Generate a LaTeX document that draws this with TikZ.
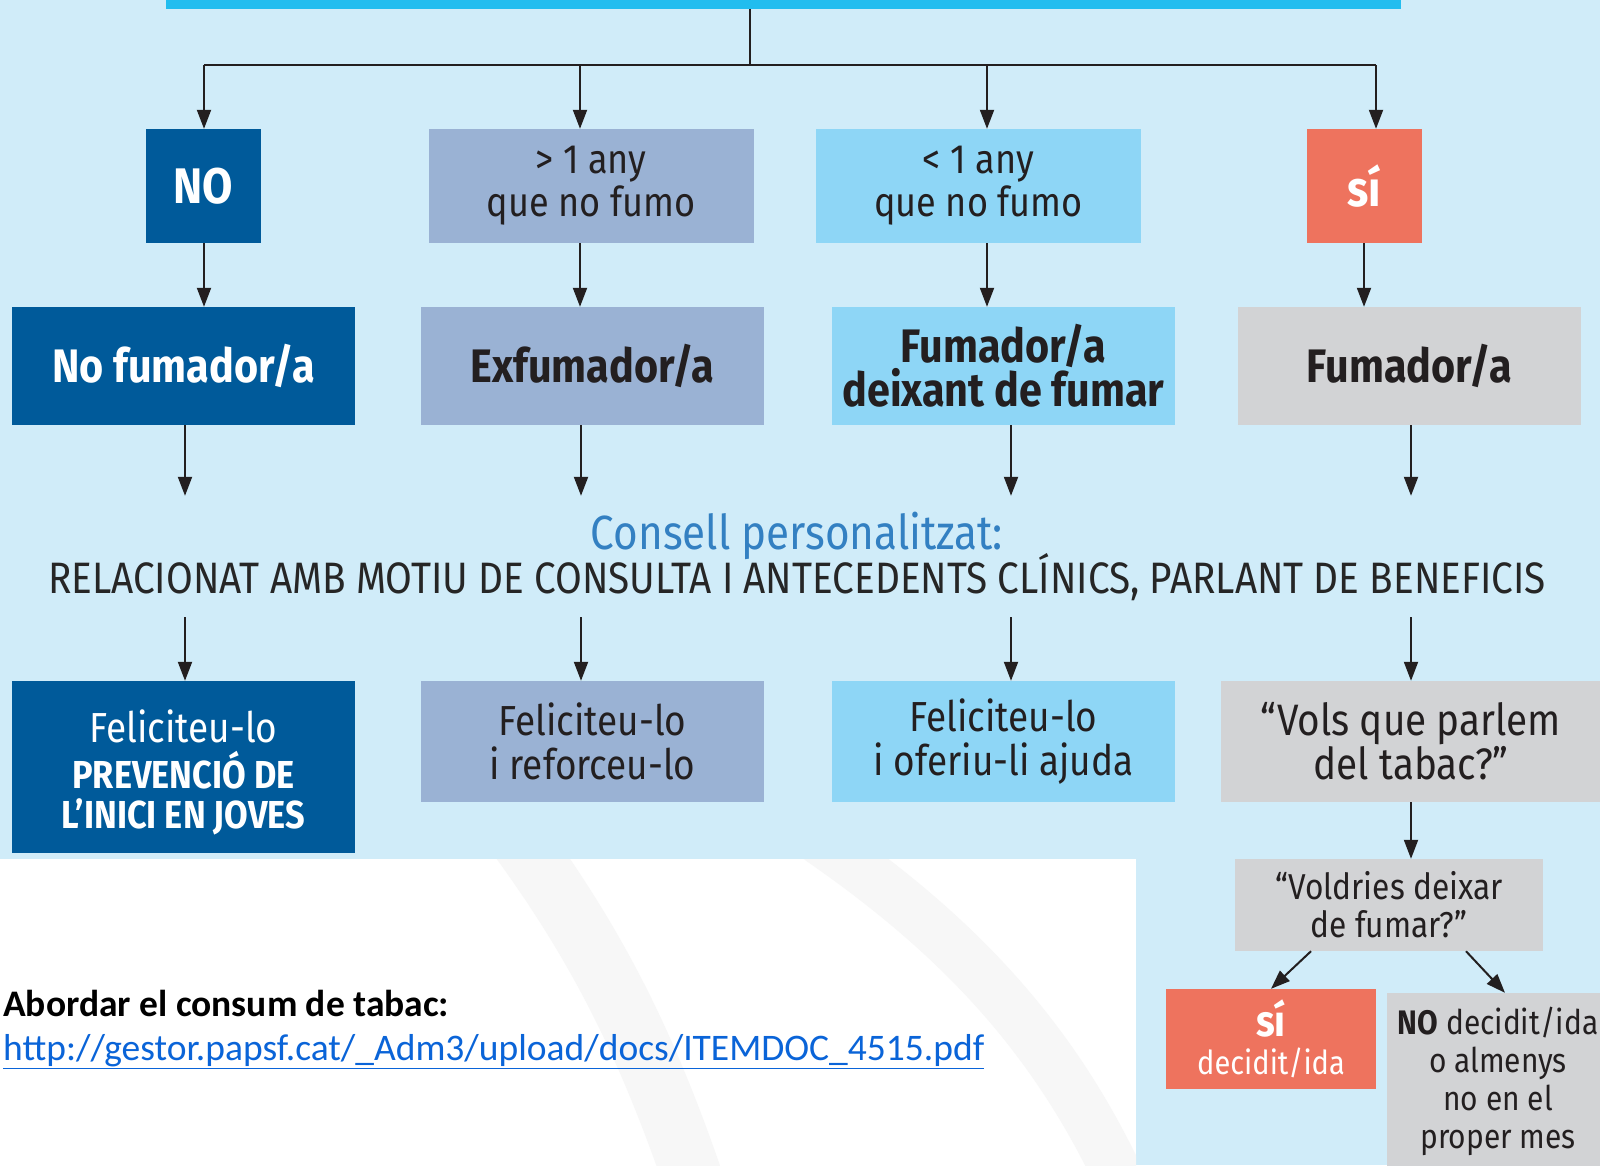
\documentclass[tikz,border=0pt]{standalone}
\usepackage{fontspec}
\setmainfont{Fira Sans}[FakeStretch=0.88]
\newfontfamily\calibri{Carlito}
\usetikzlibrary{arrows.meta,positioning}
\definecolor{skyback}{HTML}{D0ECF9}
\definecolor{barcyan}{HTML}{22BDEF}
\definecolor{darkblue}{HTML}{005A9A}
\definecolor{greyblue}{HTML}{9AB2D4}
\definecolor{lightcyan}{HTML}{8ED6F6}
\definecolor{salmon}{HTML}{EE735E}
\definecolor{lightgrey}{HTML}{D2D3D5}
\definecolor{inkdark}{HTML}{231F20}
\definecolor{consellblue}{HTML}{3380C2}
\definecolor{linkblue}{HTML}{0A64D8}

\begin{document}
\begin{tikzpicture}[x=1pt, y=-1pt,
    box/.style={rectangle, inner sep=0pt, align=center, text=inkdark},
    arr/.style={-{Triangle[length=19pt,width=14pt]}, line width=2pt, draw=inkdark},
    line/.style={line width=2pt, draw=inkdark}]

  % background
  \fill[skyback] (0,0) rectangle (1600,1165);
  \useasboundingbox (0,0) rectangle (1600,1165);
  \clip (0,0) rectangle (1600,1165);
  \fill[white] (0,859) rectangle (1136,1165);
  \begin{scope}
    \clip (0,859) rectangle (1136,1165);
    \draw[black!3, line width=60pt, line cap=round] (520,840) .. controls (600,950) and (650,1050) .. (700,1200);
    \draw[black!3, line width=50pt, line cap=round] (820,840) .. controls (950,930) and (1050,1030) .. (1120,1180);
  \end{scope}

  % top bar
  \node[box, fill=barcyan, minimum width=1235pt, minimum height=9pt] (bar) at (783.5,4.5) {};

  % first row
  \node[box, fill=darkblue, text=white, font=\bfseries\fontsize{50}{46}\selectfont, minimum width=115pt, minimum height=114pt] (no) at (203.5,186) {NO};
  \node[box, fill=greyblue, font=\fontsize{41}{43}\selectfont, minimum width=325pt, minimum height=114pt] (gt) at (591,186) {> 1 any\\que no fumo};
  \node[box, fill=lightcyan, font=\fontsize{41}{43}\selectfont, minimum width=325pt, minimum height=114pt] (lt) at (978.5,186) {< 1 any\\que no fumo};
  \node[box, fill=salmon, text=white, font=\bfseries\fontsize{50}{46}\selectfont, minimum width=115pt, minimum height=114pt] (si) at (1364,186) {sí};

  % second row
  \node[box, fill=darkblue, text=white, font=\bfseries\fontsize{47}{44}\selectfont, minimum width=343pt, minimum height=118pt] (nofum) at (183.5,366) {No fumador/a};
  \node[box, fill=greyblue, font=\bfseries\fontsize{47}{44}\selectfont, minimum width=343pt, minimum height=118pt] (exfum) at (592.5,366) {Exfumador/a};
  \node[box, fill=lightcyan, font=\bfseries\fontsize{47}{44}\selectfont, minimum width=343pt, minimum height=118pt] (deix) at (1003.5,366) {Fumador/a\\deixant de fumar};
  \node[box, fill=lightgrey, font=\bfseries\fontsize{47}{44}\selectfont, minimum width=343pt, minimum height=118pt] (fum) at (1409.5,366) {Fumador/a};

  % advice
  \node[box, text=black!85, font=\fontsize{44}{47}\selectfont, minimum height=121pt] (advice) at (797,556.5)
    {{\color{consellblue}\fontsize{48}{47}\selectfont Consell personalitzat:}\\[-8pt]RELACIONAT AMB MOTIU DE CONSULTA I ANTECEDENTS CLÍNICS, PARLANT DE BENEFICIS};

  % third row
  \node[box, fill=darkblue, text=white, font=\fontsize{42}{46}\selectfont, minimum width=343pt, minimum height=172pt] (fel1) at (183.5,767) {\rule{0pt}{44pt}Feliciteu-lo\\[0pt]\textbf{\fontsize{39}{46}\selectfont PREVENCIÓ DE}\\[-6pt]\textbf{\fontsize{39}{46}\selectfont L’INICI EN JOVES}};
  \node[box, fill=greyblue, font=\fontsize{42}{44}\selectfont, minimum width=343pt, minimum height=121pt] (fel2) at (592.5,741.5) {Feliciteu-lo\\i reforceu-lo};
  \node[box, fill=lightcyan, font=\fontsize{42}{44}\selectfont, minimum width=343pt, minimum height=121pt] (fel3) at (1003.5,741.5) {Feliciteu-lo\\i oferiu-li ajuda};
  \node[box, fill=lightgrey, font=\fontsize{44}{44}\selectfont, minimum width=380pt, minimum height=121pt] (vols) at (1411,741.5) {“Vols que parlem\\del tabac?”};

  % last question
  \node[box, fill=lightgrey, font=\fontsize{36}{38}\selectfont, minimum width=308pt, minimum height=92pt] (voldries) at (1389,905) {“Voldries deixar\\de fumar?”};
  \node[box, fill=salmon, text=white, font=\fontsize{33}{38}\selectfont, minimum width=210pt, minimum height=100pt] (decidit) at (1271,1039) {\textbf{\fontsize{44}{38}\selectfont sí}\\decidit/ida};
  \node[box, fill=lightgrey, font=\fontsize{34}{38}\selectfont, minimum width=222pt, minimum height=176pt] (nodecidit) at (1498,1081) {\textbf{NO} decidit/ida\\o almenys\\no en el\\proper mes};

  % reference
  \node[anchor=base west, inner sep=0pt, font=\calibri\bfseries\fontsize{37.5}{40}\selectfont] (title) at (3,1016) {Abordar el consum de tabac:};
  \node[anchor=base west, inner sep=0pt, text=linkblue, font=\calibri\fontsize{37.5}{40}\selectfont] (link) at (3,1060) {\underline{http://gestor.papsf.cat/\_Adm3/upload/docs/ITEMDOC\_4515.pdf}};

  % tree
  \coordinate (split) at (750,65);
  \coordinate (t1) at (204,65);
  \coordinate (t2) at (580,65);
  \coordinate (t3) at (987,65);
  \coordinate (t4) at (1376,65);
  \coordinate (k1) at (185,0);
  \coordinate (k2) at (581,0);
  \coordinate (k3) at (1011,0);
  \coordinate (k4) at (1411,0);

  \draw[line] (bar.south -| split) -- (split);
  \draw[line] (t1) -- (t4);
  \draw[arr] (t1) -- (t1 |- no.north);
  \draw[arr] (t2) -- (t2 |- gt.north);
  \draw[arr] (t3) -- (t3 |- lt.north);
  \draw[arr] (t4) -- (t4 |- si.north);

  \draw[arr] (t1 |- no.south) -- (t1 |- nofum.north);
  \draw[arr] (t2 |- gt.south) -- (t2 |- exfum.north);
  \draw[arr] (t3 |- lt.south) -- (t3 |- deix.north);
  \draw[arr] (si.south) -- (si.south |- fum.north);

  \foreach \k/\up/\dn in {k1/nofum/fel1, k2/exfum/fel2, k3/deix/fel3, k4/fum/vols} {
    \draw[arr] (\k |- \up.south) -- (\k |- advice.north);
    \draw[arr] (\k |- advice.south) -- (\k |- \dn.north);
  }

  \draw[arr] (vols.south) -- (vols.south |- voldries.north);
  \draw[arr] ([xshift=-78pt]voldries.south) -- (decidit.north);
  \draw[arr] ([xshift=77pt]voldries.south) -- ([xshift=7pt]nodecidit.north);
\end{tikzpicture}
\end{document}
